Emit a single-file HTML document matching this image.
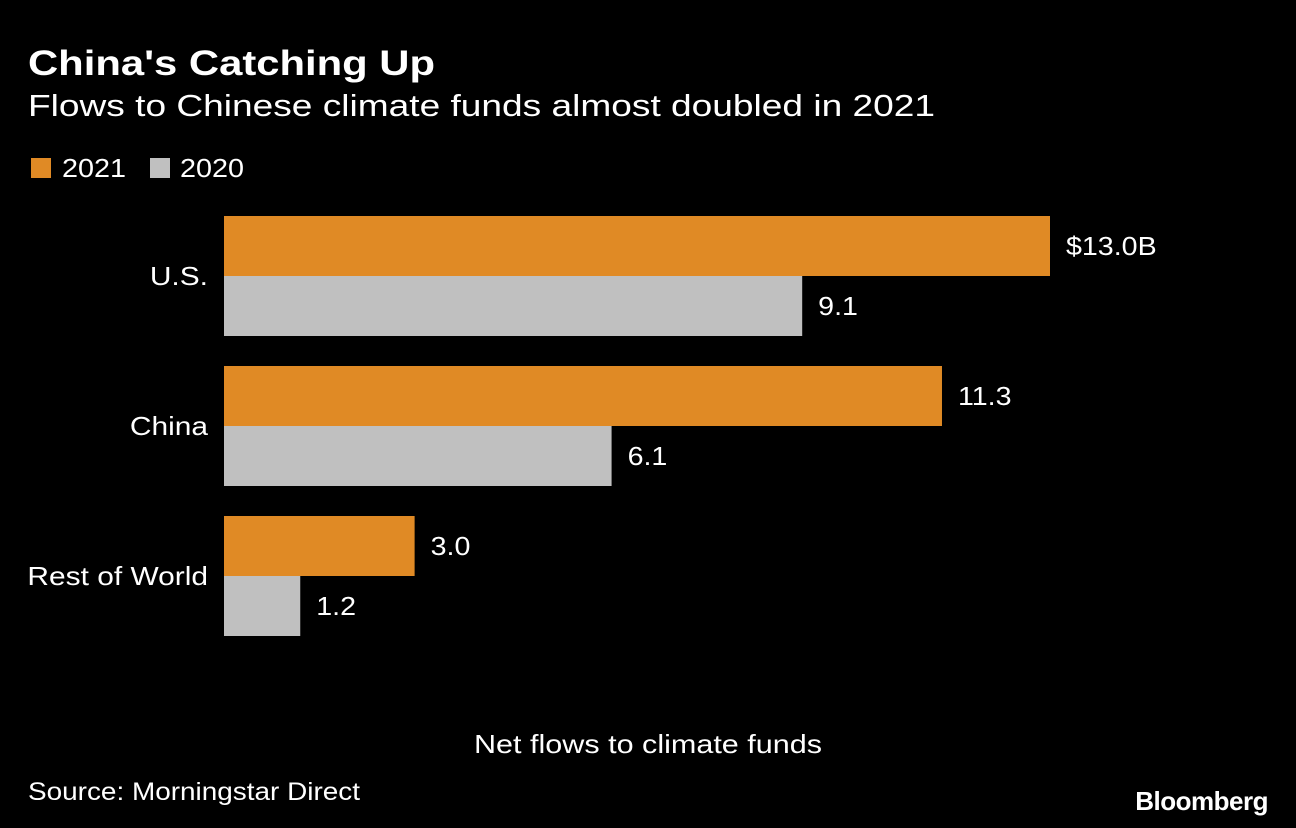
<!DOCTYPE html>
<html><head><meta charset="utf-8"><style>
body{margin:0;background:#000;width:1296px;height:828px;overflow:hidden;font-family:"Liberation Sans",sans-serif;color:#fff}
</style></head><body>
<svg width="1296" height="828" style="position:absolute;left:0;top:0">
<text x="28" y="75" font-size="35" font-weight="bold" fill="#fff" textLength="407" lengthAdjust="spacingAndGlyphs">China's Catching Up</text>
<text x="28" y="116" font-size="31" fill="#fff" textLength="907" lengthAdjust="spacingAndGlyphs">Flows to Chinese climate funds almost doubled in 2021</text>
<g>
<rect x="31" y="158" width="20" height="20" fill="#E08A25"/>
<text x="62" y="177" font-size="26" fill="#fff" textLength="64" lengthAdjust="spacingAndGlyphs">2021</text>
<rect x="150" y="158" width="20" height="20" fill="#C0C0C0"/>
<text x="180" y="177" font-size="26" fill="#fff" textLength="64" lengthAdjust="spacingAndGlyphs">2020</text>
</g>
<g id="bars"></g>
<text x="474" y="753" font-size="26" fill="#fff" textLength="348" lengthAdjust="spacingAndGlyphs">Net flows to climate funds</text>
<text x="28" y="800" font-size="25" fill="#fff" textLength="332" lengthAdjust="spacingAndGlyphs">Source: Morningstar Direct</text>
<text x="1268" y="810" font-size="26" font-weight="bold" fill="#fff" text-anchor="end" letter-spacing="-0.5">Bloomberg</text>
</svg>
<script>
const categories=["U.S.","China","Rest of World"];
const values2021=[13.0,11.3,3.0];
const values2020=[9.1,6.1,1.2];
const labels2021=["$13.0B","11.3","3.0"];
const labels2020=["9.1","6.1","1.2"];
const x0=224, pxPerUnit=826/13, groupTop=216, groupStep=150, barH=60;
const xs=v=>x0+v*pxPerUnit;
const g=document.getElementById('bars');
const NS="http://www.w3.org/2000/svg";
function mk(tag,attrs){const e=document.createElementNS(NS,tag);for(const k in attrs)e.setAttribute(k,attrs[k]);return e;}
function stretch(t,f){const L=t.getComputedTextLength();t.setAttribute('textLength',L*f);t.setAttribute('lengthAdjust','spacingAndGlyphs');}
categories.forEach((c,i)=>{
  const top=groupTop+i*groupStep;
  const lab=mk('text',{x:208,y:top+barH+9,'font-size':26,fill:'#fff','text-anchor':'end'});
  lab.textContent=c;
  
  
  g.appendChild(lab);
  stretch(lab,1.15);
  [[values2021,labels2021,'#E08A25','bar-2021'],[values2020,labels2020,'#C0C0C0','bar-2020']].forEach((s,j)=>{
    const y=top+j*barH;
    const r=mk('rect',{x:x0,y:y,width:xs(s[0][i])-x0,height:barH,fill:s[2]});
    
    
    g.appendChild(r);
    const t=mk('text',{x:xs(s[0][i])+16,y:y+barH/2+9,'font-size':26,fill:'#fff'});
    t.textContent=s[1][i];
    
    
    g.appendChild(t);
    stretch(t,1.1);
  });
});
</script>
</body></html>
